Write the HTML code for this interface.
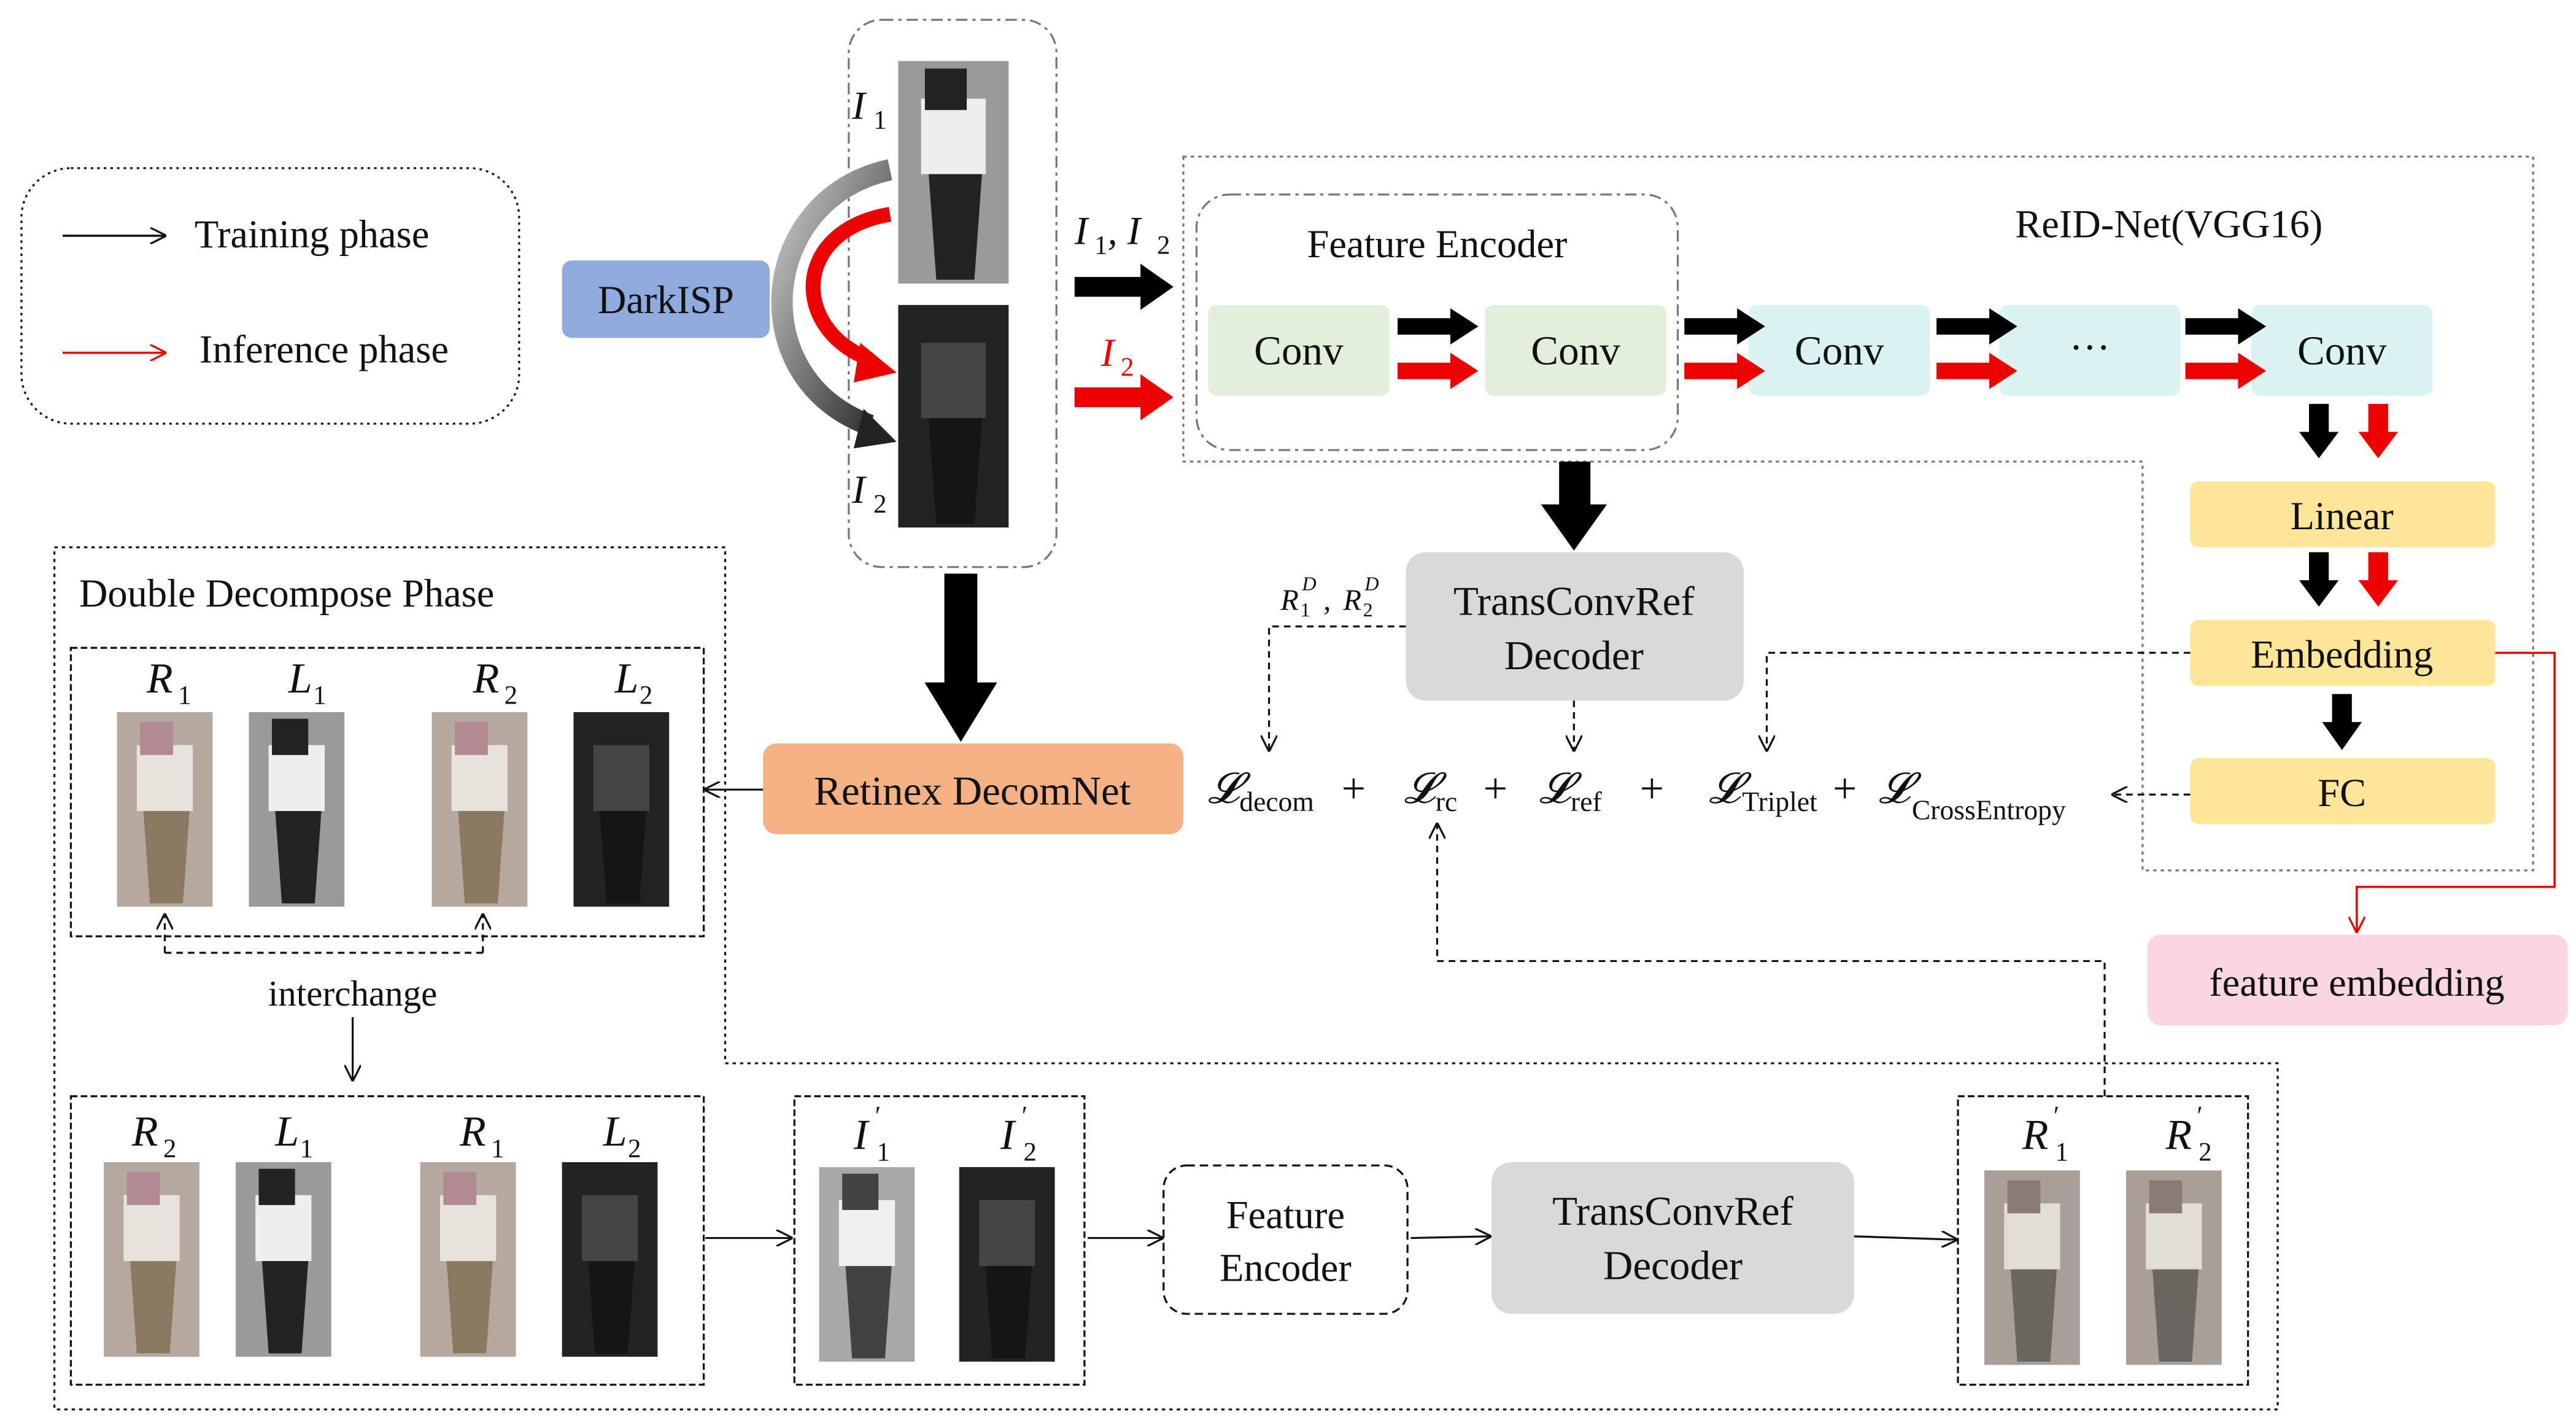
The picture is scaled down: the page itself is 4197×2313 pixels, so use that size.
<!DOCTYPE html>
<html><head><meta charset="utf-8"><style>
html,body{margin:0;padding:0;background:#fff;}
svg{display:block;}
svg, svg text{font-family:"Liberation Serif","DejaVu Serif",serif !important;}
text{fill:#111;}
</style></head><body>
<svg width="4197" height="2313" viewBox="0 0 1563 861.4" preserveAspectRatio="none" xmlns="http://www.w3.org/2000/svg" font-family="'Liberation Serif', serif">
<defs>
<marker id="ab" markerWidth="10" markerHeight="10" refX="9" refY="5" orient="auto" markerUnits="userSpaceOnUse"><path d="M0,0 L10,5 L0,10" fill="none" stroke="#111" stroke-width="1.2"/></marker>
<marker id="ar" markerWidth="10" markerHeight="10" refX="9" refY="5" orient="auto" markerUnits="userSpaceOnUse"><path d="M0,0 L10,5 L0,10" fill="none" stroke="#e00" stroke-width="1.2"/></marker>
<linearGradient id="gg" x1="0" y1="0" x2="1" y2="1"><stop offset="0" stop-color="#ccc"/><stop offset="1" stop-color="#222"/></linearGradient>
<g id="personL"><rect width="58" height="118" fill="#c9c6c2"/><rect x="12" y="20" width="34" height="40" fill="#f4f4f4"/><rect x="14" y="8" width="20" height="20" fill="#8a7f80"/><path d="M16,60 L44,60 L40,116 L20,116Z" fill="#9a9690"/></g>
<g id="personD"><rect width="58" height="118" fill="#222"/><rect x="12" y="20" width="34" height="40" fill="#444"/><path d="M16,60 L44,60 L40,116 L20,116Z" fill="#151515"/></g>
<g id="personG"><rect width="58" height="118" fill="#9a9a9a"/><rect x="12" y="20" width="34" height="40" fill="#eee"/><rect x="14" y="4" width="22" height="22" fill="#222"/><path d="M16,60 L44,60 L40,116 L20,116Z" fill="#222"/></g>
<g id="personR"><rect width="58" height="118" fill="#b5a89e"/><rect x="12" y="20" width="34" height="40" fill="#e8e2dc"/><rect x="14" y="6" width="20" height="20" fill="#b08a90"/><path d="M16,60 L44,60 L40,116 L20,116Z" fill="#8a7860"/></g>
<g id="personRp"><rect width="58" height="118" fill="#a8a098"/><rect x="12" y="20" width="34" height="40" fill="#e2ddd6"/><rect x="14" y="6" width="20" height="20" fill="#8a7a78"/><path d="M16,60 L44,60 L40,116 L20,116Z" fill="#6c6660"/></g>
</defs>

<rect x="13" y="102" width="302" height="155" rx="30" fill="none" stroke="#111" stroke-width="1.2" stroke-dasharray="1.5,2.5"/>
<line x1="38" y1="143" x2="100" y2="143" stroke="#111" stroke-width="1.3" marker-end="url(#ab)"/>
<text x="118" y="150" font-size="24">Training phase</text>
<line x1="38" y1="214" x2="100" y2="214" stroke="#e00" stroke-width="1.3" marker-end="url(#ar)"/>
<text x="121" y="220" font-size="24">Inference phase</text>

<rect x="341" y="158" width="126" height="47" rx="6" fill="#8FAADC"/>
<text x="404" y="190" font-size="24" text-anchor="middle">DarkISP</text>

<rect x="515" y="12" width="126" height="332" rx="20" fill="none" stroke="#777" stroke-width="1.2" stroke-dasharray="7,3,2,3"/>
<use href="#personG" transform="translate(545,37) scale(1.155,1.144)"/>
<use href="#personD" transform="translate(545,185) scale(1.155,1.144)"/>
<text x="517" y="72" font-size="24" font-style="italic">I</text><text x="530" y="78" font-size="16">1</text>
<text x="517" y="305" font-size="24" font-style="italic">I</text><text x="530" y="311" font-size="16">2</text>
<path d="M540,103 C460,120 450,230 528,258" fill="none" stroke="url(#gg)" stroke-width="13"/>
<path d="M524,248 L544,268 L518,272Z" fill="#222"/>
<path d="M540,130 C480,140 480,200 528,218" fill="none" stroke="#e00" stroke-width="9"/>
<path d="M522,208 L544,226 L518,232Z" fill="#e00"/>

<text x="652" y="148" font-size="24" font-style="italic">I</text><text x="664" y="154" font-size="16">1</text><text x="672" y="148" font-size="24" font-style="italic">, I</text><text x="702" y="154" font-size="16">2</text>
<path d="M652,168 L692,168 L692,160 L712,174 L692,188 L692,180 L652,180Z" fill="#000"/>
<text x="668" y="222" font-size="24" font-style="italic" style="fill:#e00">I</text><text x="680" y="228" font-size="16" style="fill:#e00">2</text>
<path d="M652,235 L692,235 L692,227 L712,241 L692,255 L692,247 L652,247Z" fill="#e00"/>

<path d="M718,95 L1537,95 L1537,528 L1300,528 L1300,280 L718,280 Z" fill="none" stroke="#777" stroke-width="1.2" stroke-dasharray="2,2.5"/>
<text x="1316" y="144" font-size="24" text-anchor="middle">ReID-Net(VGG16)</text>
<rect x="726" y="118" width="292" height="155" rx="20" fill="none" stroke="#777" stroke-width="1.2" stroke-dasharray="7,3,2,3"/>
<text x="872" y="156" font-size="24" text-anchor="middle">Feature Encoder</text>
<rect x="733" y="185" width="110" height="55" rx="5" fill="#E2EFDA"/><text x="788" y="221" font-size="25" text-anchor="middle">Conv</text>
<rect x="901" y="185" width="110" height="55" rx="5" fill="#E2EFDA"/><text x="956" y="221" font-size="25" text-anchor="middle">Conv</text>
<rect x="1061" y="185" width="110" height="55" rx="5" fill="#DAF3F3"/><text x="1116" y="221" font-size="25" text-anchor="middle">Conv</text>
<rect x="1213" y="185" width="110" height="55" rx="5" fill="#DAF3F3"/><text x="1268" y="219" font-size="25" text-anchor="middle">···</text>
<rect x="1366" y="185" width="110" height="55" rx="5" fill="#DAF3F3"/><text x="1421" y="221" font-size="25" text-anchor="middle">Conv</text>
<g id="pair">
<path d="M848,193 L880,193 L880,187 L897,198 L880,209 L880,203 L848,203Z" fill="#000"/>
<path d="M848,220 L880,220 L880,214 L897,225 L880,236 L880,230 L848,230Z" fill="#e00"/>
</g>
<use href="#pair" x="174"/><use href="#pair" x="327"/><use href="#pair" x="478"/>

<path d="M1401,245 L1413,245 L1413,262 L1419,262 L1407,278 L1395,262 L1401,262Z" fill="#000"/>
<path d="M1437,245 L1449,245 L1449,262 L1455,262 L1443,278 L1431,262 L1437,262Z" fill="#e00"/>
<rect x="1329" y="292" width="185" height="40" rx="5" fill="#FFE699"/><text x="1421" y="321" font-size="24" text-anchor="middle">Linear</text>
<path d="M1401,335 L1413,335 L1413,352 L1419,352 L1407,368 L1395,352 L1401,352Z" fill="#000"/>
<path d="M1437,335 L1449,335 L1449,352 L1455,352 L1443,368 L1431,352 L1437,352Z" fill="#e00"/>
<rect x="1329" y="376" width="185" height="40" rx="5" fill="#FFE699"/><text x="1421" y="405" font-size="24" text-anchor="middle">Embedding</text>
<path d="M1415,421 L1427,421 L1427,438 L1433,438 L1421,455 L1409,438 L1415,438Z" fill="#000"/>
<rect x="1329" y="460" width="185" height="40" rx="5" fill="#FFE699"/><text x="1421" y="489" font-size="24" text-anchor="middle">FC</text>
<polyline points="1514,396 1550,396 1550,538 1430,538 1430,565" fill="none" stroke="#e00" stroke-width="1.3" marker-end="url(#ar)"/>
<rect x="1303" y="567" width="255" height="55" rx="8" fill="#F8D7DE"/><text x="1430" y="604" font-size="24" text-anchor="middle">feature embedding</text>

<path d="M946,280 L965,280 L965,306 L975,306 L955,334 L935,306 L946,306Z" fill="#000"/>
<rect x="853" y="335" width="205" height="90" rx="12" fill="#D9D9D9"/>
<text x="955" y="373" font-size="25" text-anchor="middle">TransConvRef</text>
<text x="955" y="406" font-size="25" text-anchor="middle">Decoder</text>

<path d="M573,348 L593,348 L593,414 L605,414 L583,450 L561,414 L573,414Z" fill="#000"/>
<rect x="463" y="451" width="255" height="55" rx="8" fill="#F4B183"/><text x="590" y="488" font-size="25" text-anchor="middle">Retinex DecomNet</text>

<g font-size="26" font-style="italic">
<text x="733" y="487">𝓛</text><text x="752" y="492" font-size="17" font-style="normal">decom</text>
<text x="814" y="487" font-style="normal">+</text>
<text x="852" y="487">𝓛</text><text x="871" y="492" font-size="17" font-style="normal">rc</text>
<text x="900" y="487" font-style="normal">+</text>
<text x="934" y="487">𝓛</text><text x="953" y="492" font-size="17" font-style="normal">ref</text>
<text x="995" y="487" font-style="normal">+</text>
<text x="1037" y="487">𝓛</text><text x="1057" y="492" font-size="17" font-style="normal">Triplet</text>
<text x="1112" y="487" font-style="normal">+</text>
<text x="1140" y="487">𝓛</text><text x="1160" y="497" font-size="17" font-style="normal">CrossEntropy</text>
</g>
<g fill="none" stroke="#111" stroke-width="1.2" stroke-dasharray="4,3">
<polyline points="853,380 770,380 770,455" marker-end="url(#ab)"/>
<polyline points="955,425 955,455" marker-end="url(#ab)"/>
<polyline points="1329,396 1072,396 1072,455" marker-end="url(#ab)"/>
<polyline points="1329,482 1282,482" marker-end="url(#ab)"/>
<polyline points="1277,665 1277,583 872,583 872,500" marker-end="url(#ab)"/>
</g>
<text x="777" y="370" font-size="18" font-style="italic">R</text><text x="789" y="374" font-size="12">1</text><text x="790" y="358" font-size="12" font-style="italic">D</text>
<text x="803" y="370" font-size="18">, </text><text x="815" y="370" font-size="18" font-style="italic">R</text><text x="827" y="374" font-size="12">2</text><text x="828" y="358" font-size="12" font-style="italic">D</text>

<path d="M33,332 L440,332 L440,645 L1382,645 L1382,855 L33,855 Z" fill="none" stroke="#111" stroke-width="1.2" stroke-dasharray="2,2.5"/>
<text x="48" y="368" font-size="24">Double Decompose Phase</text>
<rect x="43" y="393" width="384" height="175" fill="none" stroke="#111" stroke-width="1.2" stroke-dasharray="4,2"/>
<g font-size="26" font-style="italic">
<text x="89" y="420">R</text><text x="108" y="427" font-size="16" font-style="normal">1</text>
<text x="175" y="420">L</text><text x="190" y="427" font-size="16" font-style="normal">1</text>
<text x="287" y="420">R</text><text x="306" y="427" font-size="16" font-style="normal">2</text>
<text x="373" y="420">L</text><text x="388" y="427" font-size="16" font-style="normal">2</text>
</g>
<use href="#personR" x="71" y="432"/><use href="#personG" x="151" y="432"/><use href="#personR" x="262" y="432"/><use href="#personD" x="348" y="432"/>
<line x1="463" y1="479" x2="428" y2="479" stroke="#111" stroke-width="1.2" marker-end="url(#ab)"/>
<polyline points="100,578 293,578" fill="none" stroke="#111" stroke-width="1.2" stroke-dasharray="4,3"/>
<line x1="100" y1="578" x2="100" y2="555" stroke="#111" stroke-width="1.2" stroke-dasharray="4,3" marker-end="url(#ab)"/>
<line x1="293" y1="578" x2="293" y2="555" stroke="#111" stroke-width="1.2" stroke-dasharray="4,3" marker-end="url(#ab)"/>
<text x="214" y="610" font-size="22" text-anchor="middle">interchange</text>
<line x1="214" y1="617" x2="214" y2="655" stroke="#111" stroke-width="1.2" marker-end="url(#ab)"/>

<rect x="43" y="665" width="384" height="175" fill="none" stroke="#111" stroke-width="1.2" stroke-dasharray="4,2"/>
<g font-size="26" font-style="italic">
<text x="80" y="695">R</text><text x="99" y="702" font-size="16" font-style="normal">2</text>
<text x="167" y="695">L</text><text x="182" y="702" font-size="16" font-style="normal">1</text>
<text x="279" y="695">R</text><text x="298" y="702" font-size="16" font-style="normal">1</text>
<text x="366" y="695">L</text><text x="381" y="702" font-size="16" font-style="normal">2</text>
</g>
<use href="#personR" x="63" y="705"/><use href="#personG" x="143" y="705"/><use href="#personR" x="255" y="705"/><use href="#personD" x="341" y="705"/>
<line x1="428" y1="751" x2="480" y2="751" stroke="#111" stroke-width="1.2" marker-end="url(#ab)"/>

<rect x="482" y="665" width="176" height="175" fill="none" stroke="#111" stroke-width="1.2" stroke-dasharray="4,2"/>
<g font-size="26" font-style="italic">
<text x="518" y="697">I</text><text x="530" y="682" font-size="16">′</text><text x="532" y="704" font-size="16" font-style="normal">1</text>
<text x="607" y="697">I</text><text x="619" y="682" font-size="16">′</text><text x="621" y="704" font-size="16" font-style="normal">2</text>
</g>
<use href="#personG" x="497" y="708" style="opacity:0.85"/><use href="#personD" x="582" y="708"/>
<line x1="660" y1="751" x2="705" y2="751" stroke="#111" stroke-width="1.2" marker-end="url(#ab)"/>
<rect x="706" y="707" width="148" height="90" rx="14" fill="none" stroke="#111" stroke-width="1.2" stroke-dasharray="5,3"/>
<text x="780" y="745" font-size="24" text-anchor="middle">Feature</text>
<text x="780" y="777" font-size="24" text-anchor="middle">Encoder</text>
<line x1="856" y1="751" x2="904" y2="750" stroke="#111" stroke-width="1.2" marker-end="url(#ab)"/>
<rect x="905" y="705" width="220" height="92" rx="12" fill="#D9D9D9"/>
<text x="1015" y="743" font-size="25" text-anchor="middle">TransConvRef</text>
<text x="1015" y="776" font-size="25" text-anchor="middle">Decoder</text>
<line x1="1125" y1="750" x2="1187" y2="752" stroke="#111" stroke-width="1.2" marker-end="url(#ab)"/>
<rect x="1188" y="665" width="176" height="175" fill="none" stroke="#111" stroke-width="1.2" stroke-dasharray="4,2"/>
<g font-size="26" font-style="italic">
<text x="1227" y="697">R</text><text x="1245" y="682" font-size="16">′</text><text x="1247" y="704" font-size="16" font-style="normal">1</text>
<text x="1314" y="697">R</text><text x="1332" y="682" font-size="16">′</text><text x="1334" y="704" font-size="16" font-style="normal">2</text>
</g>
<use href="#personRp" x="1204" y="710"/><use href="#personRp" x="1290" y="710"/>
</svg>
</body></html>
